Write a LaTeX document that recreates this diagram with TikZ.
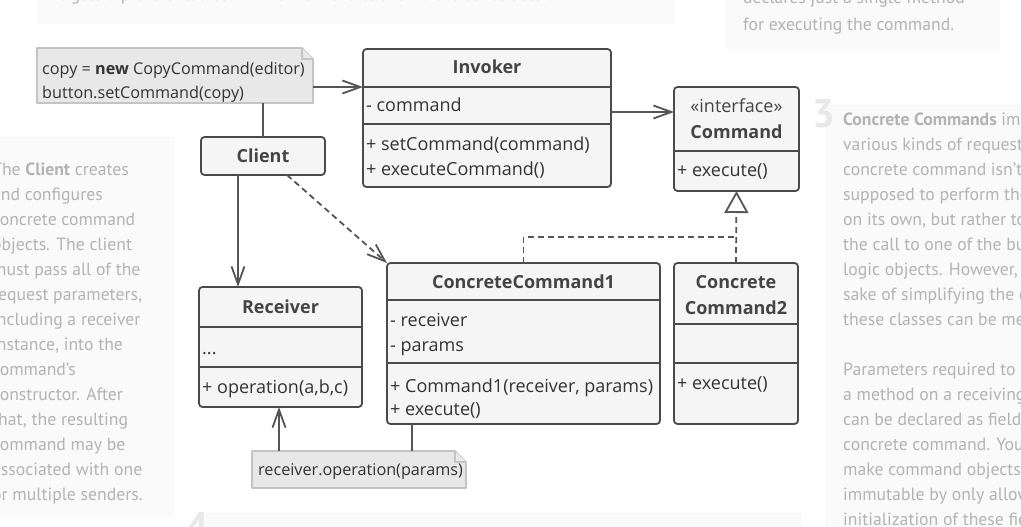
\documentclass[tikz,border=0pt]{standalone}
\usepackage{fontspec}
\setmainfont{Open Sans}
\newfontfamily\annfont{PT Sans}
\usetikzlibrary{arrows.meta}
\definecolor{bord}{HTML}{4A4A4A}
\definecolor{cfill}{HTML}{F5F5F5}
\definecolor{nfill}{HTML}{E8E8E8}
\definecolor{nbord}{HTML}{C4C4C4}
\definecolor{lnc}{HTML}{555555}
\definecolor{anntext}{HTML}{B3B3B3}
\definecolor{annbg}{HTML}{FAFAFA}
\definecolor{digitc}{HTML}{E8E8E8}
\definecolor{txt}{HTML}{333333}
\definecolor{hdrc}{HTML}{444444}
\newcommand\hdiv[2]{\draw[div] (#1.west |- 0,#2) -- (#1.east |- 0,#2);}
\begin{document}
\begin{tikzpicture}[x=1pt,y=-1pt,
  cls/.style={draw=bord, fill=cfill, line width=1.8pt, rounded corners=3.5pt, anchor=north west, inner sep=0pt, outer sep=0pt},
  div/.style={draw=bord, line width=1.8pt},
  notebox/.style={draw=none, anchor=north west, inner sep=0pt, outer sep=0pt},
  notedraw/.style={draw=nbord, fill=nfill, line width=1.6pt, line join=round},
  hdr/.style={font=\fontsize{18}{21}\selectfont\bfseries, text=hdrc, inner sep=0pt, anchor=base},
  hdrn/.style={font=\fontsize{18}{21}\selectfont, text=hdrc, inner sep=0pt, anchor=base},
  mem/.style={font=\fontsize{18}{21}\selectfont, text=txt, anchor=base west, inner sep=0pt},
  ntxt/.style={font=\fontsize{16.2}{19}\selectfont, text=txt, anchor=base west, inner sep=0pt},
  ann/.style={font=\annfont\fontsize{17.7}{25}\selectfont, text=anntext, anchor=base west, inner sep=0pt},
  digit/.style={font=\annfont\bfseries\fontsize{40}{42}\selectfont, text=digitc, anchor=base west, inner sep=0pt},
  panel/.style={fill=annbg, draw=none},
  conn/.style={draw=lnc, line width=1.8pt},
  arr/.style={conn, -{Straight Barb[length=18pt,width=13pt,line width=1.8pt]}},
  darr/.style={arr, dash pattern=on 6pt off 4pt},
  dconn/.style={conn, dash pattern=on 6pt off 4pt},
  ]
\useasboundingbox (0,0) rectangle (1021,527);
\clip (0,0) rectangle (1021,527);
\fill[white] (0,0) rectangle (1021,527);

% annotation panels
\fill[panel] (37,-10) rectangle (675,24);
\node[ann] (tl) at (55,1) {it gets a pre-created command from the client via the constructor.};
\fill[panel] (725,-10) rectangle (1000,49);
\node[ann] (tr1) at (743,4) {declares just a single method};
\node[ann] (tr2) at (743,31) {for executing the command.};

\fill[panel] (-10,137) rectangle (175,517);
\foreach \t [count=\i from 0] in {{The \textbf{Client} creates},{and configures},{concrete command},{objects. The client},{must pass all of the},{request parameters,},{including a receiver},{instance, into the},{command’s},{constructor. After},{that, the resulting},{command may be},{associated with one},{or multiple senders.}}
  {\node[ann] (lp\i) at (-8,175+25*\i) {\t};}

\fill[panel] (825,105) rectangle (1030,540);
\node[digit] (d3) at (812,128) {3};
\foreach \t [count=\i from 0] in {{\textbf{Concrete Commands} implement},{various kinds of requests. A},{concrete command isn’t},{supposed to perform the work},{on its own, but rather to pass},{the call to one of the business},{logic objects. However, for the},{sake of simplifying the code,},{these classes can be merged.},{},{Parameters required to execute},{a method on a receiving object},{can be declared as fields in the},{concrete command. You can},{make command objects},{immutable by only allowing the},{initialization of these fields via}}
  {\node[ann] (rp\i) at (843,125+25*\i) {\t};}

\fill[panel] (200,513) rectangle (802,540);
\node[digit] (d4) at (186,540) {4};

% notes
\node[notebox, minimum width=276pt, minimum height=55pt] (n1) at (37,48) {};
\draw[notedraw] (n1.north west) -- ([xshift=-11pt]n1.north east) -- ([yshift=-11pt]n1.north east) -- (n1.south east) -- (n1.south west) -- cycle;
\draw[notedraw] ([xshift=-11pt]n1.north east) -- ([xshift=-11pt,yshift=-11pt]n1.north east) -- ([yshift=-11pt]n1.north east);
\node[ntxt] (n1a) at (42,75) {copy = \textbf{new} CopyCommand(editor)};
\node[ntxt] (n1b) at (42,99) {button.setCommand(copy)};

\node[notebox, minimum width=214pt, minimum height=37pt] (n2) at (252,451) {};
\draw[notedraw] (n2.north west) -- ([xshift=-11pt]n2.north east) -- ([yshift=-11pt]n2.north east) -- (n2.south east) -- (n2.south west) -- cycle;
\draw[notedraw] ([xshift=-11pt]n2.north east) -- ([xshift=-11pt,yshift=-11pt]n2.north east) -- ([yshift=-11pt]n2.north east);
\node[ntxt] (n2a) at (258,475) {receiver.operation(params)};

% class boxes
\node[cls, minimum width=248pt, minimum height=138pt] (inv) at (363,49) {};
\hdiv{inv}{87}\hdiv{inv}{124}
\node[hdr] (invh) at (487,74) {Invoker};
\node[mem] (inv1) at (366,112) {- command};
\node[mem] (inv2) at (366,150) {+ setCommand(command)};
\node[mem] (inv3) at (366,175) {+ executeCommand()};

\node[cls, minimum width=124pt, minimum height=38pt] (cl) at (201,137) {};
\node[hdr] (clh) at (263,162) {Client};

\node[cls, minimum width=125pt, minimum height=104pt] (cmd) at (674,87) {};
\hdiv{cmd}{151}
\node[hdrn] (cmdh1) at (736.5,113) {«interface»};
\node[hdr] (cmdh2) at (736.5,139) {Command};
\node[mem] (cmd1) at (677,176) {+ execute()};

\node[cls, minimum width=163pt, minimum height=120pt] (rc) at (199,287) {};
\hdiv{rc}{327}\hdiv{rc}{367}
\node[hdr] (rch) at (280.5,313) {Receiver};
\node[mem] (rc1) at (202,354) {...};
\node[mem] (rc2) at (202,393) {+ operation(a,b,c)};

\node[cls, minimum width=273pt, minimum height=161pt] (cc1) at (387,263) {};
\hdiv{cc1}{300}\hdiv{cc1}{363}
\node[hdr] (cc1h) at (523.5,288) {ConcreteCommand1};
\node[mem] (cc11) at (390,326) {- receiver};
\node[mem] (cc12) at (390,351) {- params};
\node[mem] (cc13) at (390,392) {+ Command1(receiver, params)};
\node[mem] (cc14) at (390,415) {+ execute()};

\node[cls, minimum width=124pt, minimum height=161pt] (cc2) at (674,263) {};
\hdiv{cc2}{324}\hdiv{cc2}{363}
\node[hdr] (cc2h1) at (736,288) {Concrete};
\node[hdr] (cc2h2) at (736,314) {Command2};
\node[mem] (cc21) at (677,389) {+ execute()};

% connectors
\draw[arr] (n1.east |- 0,87) -- (inv.west |- 0,87);
\draw[conn] (n1.south -| 263,0) -- (cl.north -| 263,0);
\draw[arr] (cl.south -| 238,0) -- (rc.north -| 238,0);
\draw[darr] (cl.south -| 287,0) -- (cc1.north west);
\draw[arr] (inv.east |- 0,112) -- (cmd.west |- 0,112);
\coordinate (j) at (cc2.north |- 0,237);
\draw[dconn] (cc1.north) |- (j);
\draw[dconn, -{Triangle[fill=white, length=22pt, width=24pt, line width=1.8pt]}] (cc2.north) -- (cmd.south);
\draw[conn] (cc1.south -| 412,0) -- (n2.north -| 412,0);
\draw[arr] (n2.north -| 279,0) -- (rc.south -| 279,0);
\end{tikzpicture}
\end{document}
